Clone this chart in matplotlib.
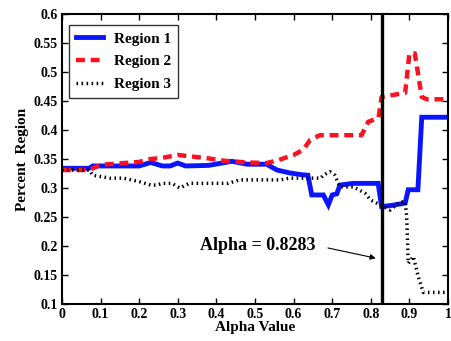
import matplotlib
matplotlib.use("Agg")
import matplotlib.pyplot as plt

# Data
r1_x = [0, 0.07, 0.08, 0.2, 0.23, 0.26, 0.28, 0.3, 0.32, 0.38, 0.44, 0.48, 0.53, 0.557, 0.59, 0.62,
        0.637, 0.647, 0.677, 0.69, 0.70, 0.712, 0.72, 0.754, 0.819, 0.828, 0.854, 0.889, 0.897,
        0.922, 0.932, 1.0]
r1_y = [0.334, 0.334, 0.338, 0.338, 0.344, 0.338, 0.338, 0.343, 0.338, 0.339, 0.346, 0.341, 0.341,
        0.331, 0.326, 0.323, 0.322, 0.288, 0.288, 0.271, 0.288, 0.29, 0.305, 0.308, 0.308, 0.268,
        0.27, 0.274, 0.297, 0.297, 0.422, 0.422]

r2_x = [0, 0.07, 0.1, 0.2, 0.23, 0.26, 0.3, 0.38, 0.42, 0.48, 0.53, 0.56, 0.6, 0.625, 0.643, 0.668,
        0.776, 0.793, 0.82, 0.828, 0.889, 0.90, 0.914, 0.932, 0.945, 1.0]
r2_y = [0.331, 0.331, 0.34, 0.345, 0.35, 0.352, 0.357, 0.351, 0.347, 0.344, 0.343, 0.348, 0.357,
        0.366, 0.383, 0.391, 0.391, 0.414, 0.421, 0.457, 0.464, 0.532, 0.532, 0.457, 0.453, 0.453]

r3_x = [0, 0.07, 0.08, 0.125, 0.16, 0.2, 0.23, 0.245, 0.26, 0.285, 0.305, 0.33, 0.43, 0.46, 0.565,
        0.59, 0.67, 0.677, 0.694, 0.707, 0.72, 0.755, 0.785, 0.8, 0.824, 0.85, 0.876, 0.889, 0.893,
        0.897, 0.91, 0.923, 0.936, 1.0]
r3_y = [0.331, 0.331, 0.322, 0.317, 0.317, 0.311, 0.305, 0.305, 0.308, 0.308, 0.30, 0.308, 0.308,
        0.314, 0.314, 0.317, 0.317, 0.322, 0.328, 0.322, 0.302, 0.302, 0.291, 0.279, 0.271, 0.262,
        0.276, 0.276, 0.25, 0.17, 0.182, 0.147, 0.12, 0.12]

alpha_star = 0.8283
x_ticks = [0, 0.1, 0.2, 0.3, 0.4, 0.5, 0.6, 0.7, 0.8, 0.9, 1.0]
x_tick_labels = ["0", "0.1", "0.2", "0.3", "0.4", "0.5", "0.6", "0.7", "0.8", "0.9", "1"]
y_ticks = [0.1, 0.15, 0.2, 0.25, 0.3, 0.35, 0.4, 0.45, 0.5, 0.55, 0.6]
y_tick_labels = ["0.1", "0.15", "0.2", "0.25", "0.3", "0.35", "0.4", "0.45", "0.5", "0.55", "0.6"]

plt.rcParams['font.family'] = ['Liberation Serif', 'DejaVu Serif']

fig = plt.figure(figsize=(4.51, 3.41), dpi=100)
ax = fig.add_axes([62/451, 37/341, 386/451, 290/341])

ax.plot(r1_x, r1_y, color='#0a14ff', lw=3.5, solid_joinstyle='miter', label='Region 1')
ax.plot(r2_x, r2_y, color='#ff1020', lw=3.2, linestyle=(0, (2.0, 1.3)), label='Region 2')
ax.plot(r3_x, r3_y, color='black', lw=2.5, linestyle=(0, (0.45, 1.0)), label='Region 3')
ax.axvline(alpha_star, color='black', lw=2.4)

ax.text(0.658, 0.2, "Alpha = %.4f" % alpha_star, ha='right', va='center',
        fontsize=13, fontweight='bold')
ax.annotate("", xy=(0.813, 0.179), xytext=(0.689, 0.1966),
            arrowprops=dict(arrowstyle='-|>', color='black', lw=0.8, mutation_scale=8,
                            shrinkA=0, shrinkB=0))

ax.set_xlim(0, 1)
ax.set_ylim(0.1, 0.6)
ax.set_xticks(x_ticks)
ax.set_xticklabels(x_tick_labels)
ax.set_yticks(y_ticks)
ax.set_yticklabels(y_tick_labels)
ax.tick_params(direction='in', top=True, right=True, length=4, width=1, labelsize=10, pad=3)
for lab in ax.get_xticklabels() + ax.get_yticklabels():
    lab.set_fontweight('bold')
for s in ax.spines.values():
    s.set_linewidth(1.5)

ax.set_xlabel("Alpha Value", fontsize=11, fontweight='bold', labelpad=0)
ax.set_ylabel("Percent  Region", fontsize=11, fontweight='bold', labelpad=3)

leg = ax.legend(loc='upper left', bbox_to_anchor=(0.018, 0.962),
                prop={'weight': 'bold', 'size': 11}, frameon=True, fancybox=False,
                handlelength=1.8, borderpad=0.45, labelspacing=0.6, handletextpad=0.7,
                borderaxespad=0)
leg.get_frame().set_edgecolor('black')
leg.get_frame().set_linewidth(1.0)

fig.savefig("out.png", dpi=100)
